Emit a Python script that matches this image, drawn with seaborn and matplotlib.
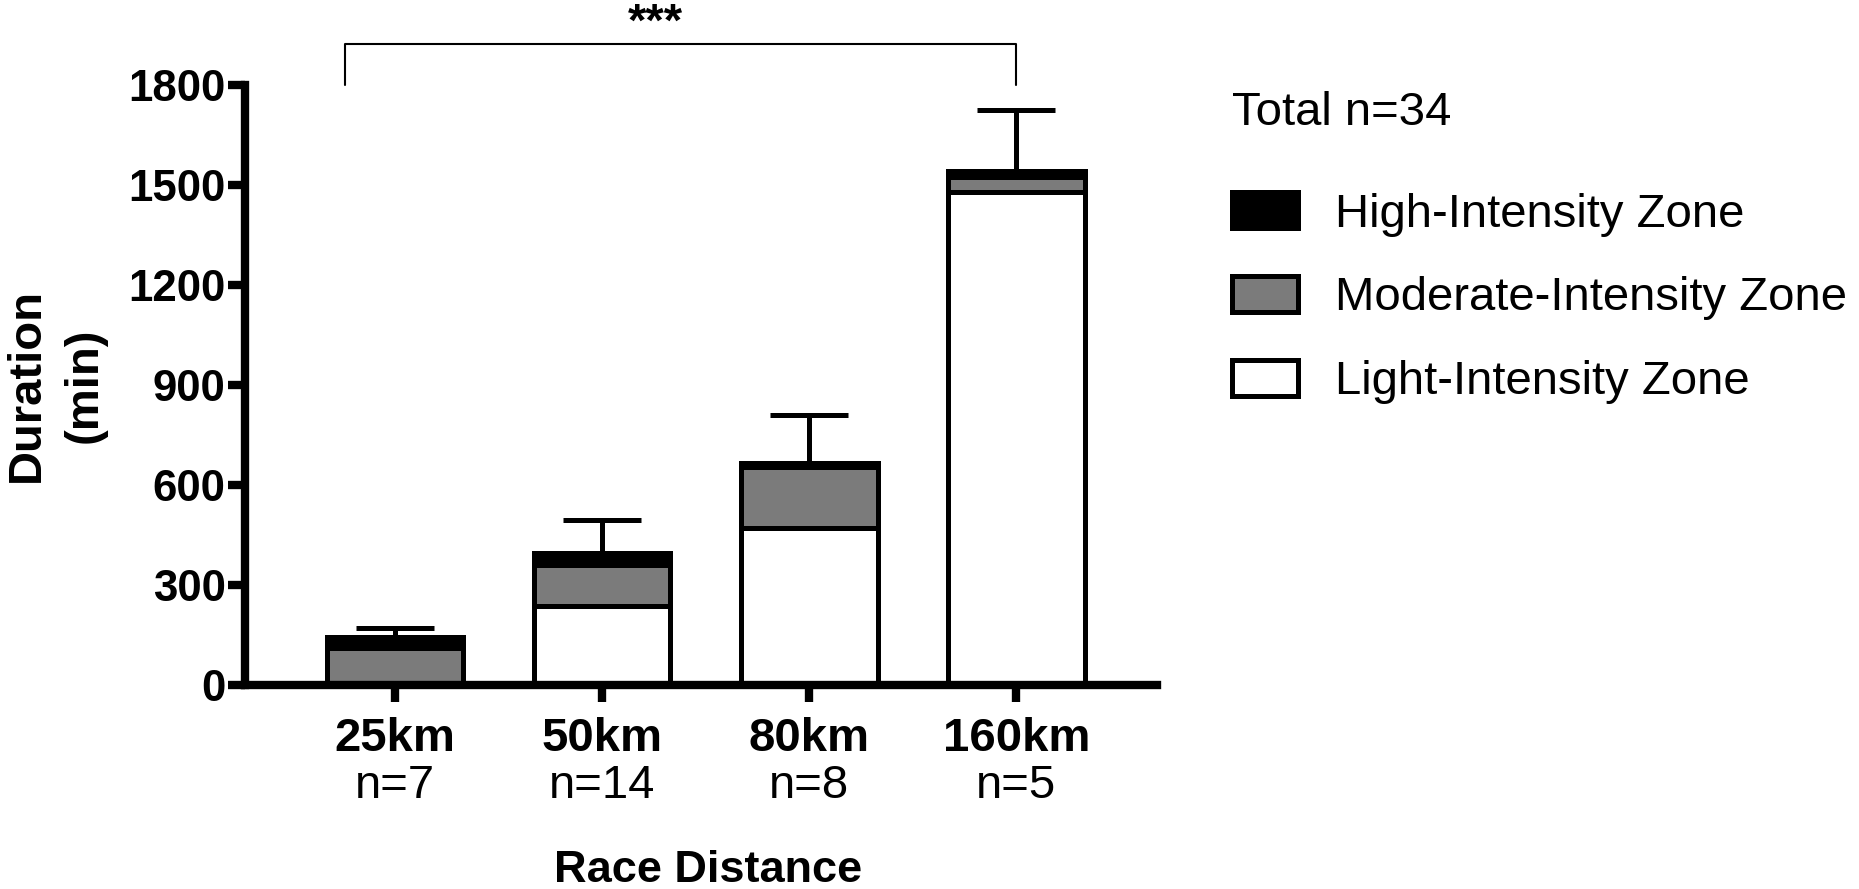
import numpy as np
import pandas as pd
import matplotlib
matplotlib.use('Agg')
import matplotlib.pyplot as plt
import seaborn as sns
from matplotlib.patches import Patch

sns.set_style('ticks')
plt.rcParams['font.family'] = ['Liberation Sans', 'DejaVu Sans']
for key in ['text.color', 'axes.labelcolor', 'xtick.color', 'ytick.color',
            'axes.edgecolor']:
    plt.rcParams[key] = 'black'

# values (minutes)
distances = ['25km', '50km', '80km', '160km']
group_n = ['n=7', 'n=14', 'n=8', 'n=5']
light = [0, 237, 470, 1478]
moderate = [110, 122, 184, 46]
high = [35, 36, 12, 17]
err_up = [25, 100, 145, 185]
total_label = 'Total n=34'
sig_label = '***'

df = pd.DataFrame({'distance': distances, 'light': light,
                   'moderate': moderate, 'high': high, 'err': err_up})
df['lm'] = df['light'] + df['moderate']
df['total'] = df['lm'] + df['high']

FS = 34
LW = 3.6
fig = plt.figure(figsize=(18.59, 8.89), dpi=100)
ax = fig.add_axes([0.1318, 0.2295, 0.4906, 0.6749])

# stacked bars: draw cumulative heights from the top down
for col, color in [('total', 'black'), ('lm', '#7b7b7b'), ('light', 'white')]:
    sns.barplot(data=df, x='distance', y=col, color=color, width=0.66,
                edgecolor='black', linewidth=LW, errorbar=None, ax=ax,
                saturation=1)

ax.errorbar(np.arange(len(df)), df['total'],
            yerr=[np.zeros(len(df)), df['err']], fmt='none', ecolor='black',
            elinewidth=LW, capsize=28, capthick=LW, zorder=0.5)

ax.set_xlim(-0.725, 3.68)
ax.set_ylim(0, 1800)
ax.set_yticks(np.arange(0, 1801, 300))
sns.despine(ax=ax)
ax.spines['left'].set_linewidth(6)
ax.spines['bottom'].set_linewidth(6)
ax.tick_params(axis='both', width=6, length=12, pad=2)
ax.tick_params(axis='y', labelsize=31.5)
ax.tick_params(axis='x', labelsize=FS, pad=11)
for lab in ax.get_yticklabels():
    lab.set_fontweight('bold')
ax.set_xticks(range(len(distances)))
ax.set_xticklabels(distances, fontweight='bold')
for i, n in enumerate(group_n):
    ax.text(i, -0.168, n, transform=ax.get_xaxis_transform(), ha='center',
            va='center', fontsize=FS)

ax.set_xlabel('Race Distance', fontsize=32.5, fontweight='bold')
ax.xaxis.set_label_coords(0.508, -0.31)
ax.xaxis.label.set_va('center')
ax.set_ylabel('Duration\n(min)', fontsize=FS, fontweight='bold',
              linespacing=1.4)
ax.yaxis.set_label_coords(-0.152, 0.5)

# significance bracket between 25km and 160km
ax.plot([-0.24, -0.24, 3, 3], [1800, 1923, 1923, 1800], color='black',
        lw=1.5, clip_on=False)
ax.text(1.255, 1947, sig_label, ha='center', va='baseline', fontsize=FS,
        fontweight='bold', clip_on=False)

handles = [Patch(facecolor='black', edgecolor='black', linewidth=LW),
           Patch(facecolor='#7b7b7b', edgecolor='black', linewidth=LW),
           Patch(facecolor='white', edgecolor='black', linewidth=LW)]
labels = ['High-Intensity Zone', 'Moderate-Intensity Zone',
          'Light-Intensity Zone']
leg = fig.legend(handles, labels, title=total_label, loc='upper left',
                 bbox_to_anchor=(0.64, 0.945), frameon=False, fontsize=FS,
                 title_fontsize=FS, handlelength=1.4, handleheight=0.8,
                 labelspacing=0.83, handletextpad=0.78, alignment='left')
leg._legend_box.sep = 41

fig.savefig('out.png', dpi=100)
